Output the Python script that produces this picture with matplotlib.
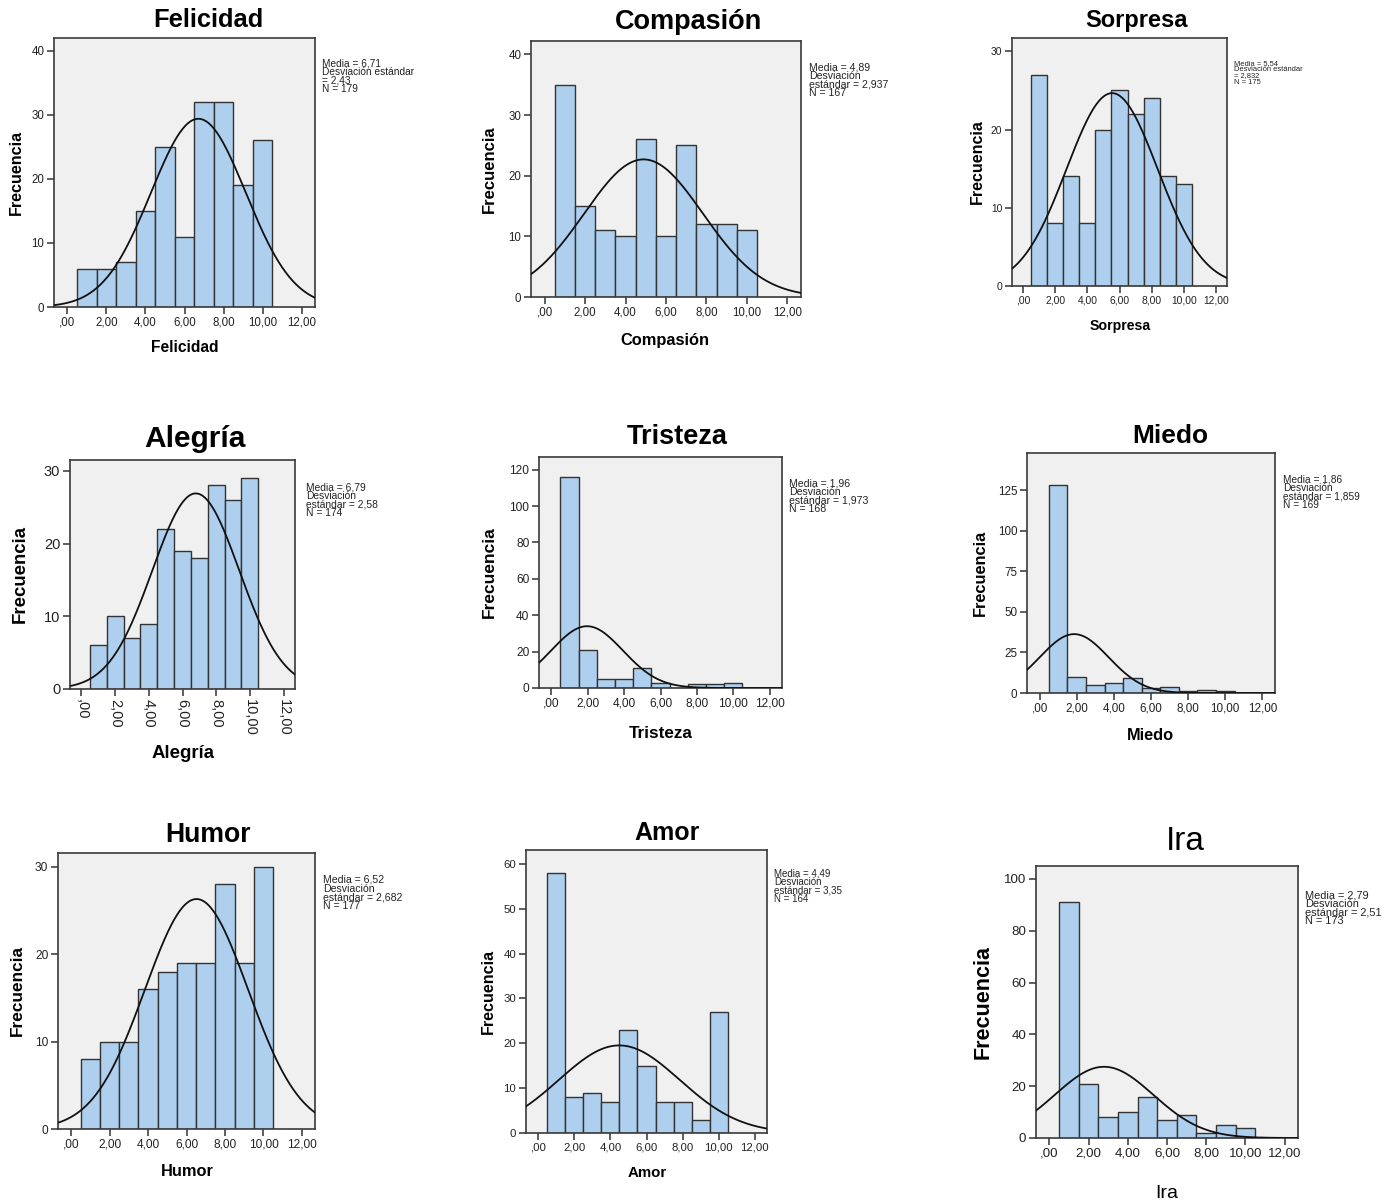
import numpy as np
import matplotlib
matplotlib.use("Agg")
import matplotlib.pyplot as plt
from matplotlib.ticker import MultipleLocator, FuncFormatter

W, H = 1385, 1202

# ---- data ----
names = ["Felicidad", "Compasión", "Sorpresa",
         "Alegría", "Tristeza", "Miedo",
         "Humor", "Amor", "Ira"]
bin_centers = [1, 2, 3, 4, 5, 6, 7, 8, 9, 10]
felicidad = [6, 6, 7, 15, 25, 11, 32, 32, 19, 26]
compasion = [35, 15, 11, 10, 26, 10, 25, 12, 12, 11]
sorpresa = [27, 8, 14, 8, 20, 25, 22, 24, 14, 13]
alegria = [6, 10, 7, 9, 22, 19, 18, 28, 26, 29]
tristeza = [116, 21, 5, 5, 11, 3, 0, 2, 2, 3]
miedo = [128, 10, 5, 6, 9, 3, 4, 1, 2, 1]
humor = [8, 10, 10, 16, 18, 19, 19, 28, 19, 30]
amor = [58, 8, 9, 7, 23, 15, 7, 7, 3, 27]
ira = [91, 21, 8, 10, 16, 7, 9, 2, 5, 4]
counts = [felicidad, compasion, sorpresa, alegria, tristeza, miedo, humor, amor, ira]

means = [6.71, 4.89, 5.54, 6.79, 1.96, 1.86, 6.52, 4.49, 2.79]
sds = [2.43, 2.937, 2.832, 2.58, 1.973, 1.859, 2.682, 3.35, 2.51]
ns = [179, 167, 175, 174, 168, 169, 177, 164, 173]
stats_text = [
    "Media = 6,71\nDesviación estándar\n= 2,43\nN = 179",
    "Media = 4,89\nDesviación\nestándar = 2,937\nN = 167",
    "Media = 5,54\nDesviación estándar\n= 2,832\nN = 175",
    "Media = 6,79\nDesviación\nestándar = 2,58\nN = 174",
    "Media = 1,96\nDesviación\nestándar = 1,973\nN = 168",
    "Media = 1,86\nDesviación\nestándar = 1,859\nN = 169",
    "Media = 6,52\nDesviación\nestándar = 2,682\nN = 177",
    "Media = 4,49\nDesviación\nestándar = 3,35\nN = 164",
    "Media = 2,79\nDesviación\nestándar = 2,51\nN = 173",
]

# ---- layout (pixels): box x0,y0,x1,y1 ; title ; ylabel ; xlabel ; stats ----
layout = [
    dict(box=(54, 38, 315, 307), ytop=42, ystep=10, title=(208, 20, 18.4), ylab=(16, 172, 11.6),
         xlab=(185, 347, 11.2), stats=(322, 58, 7.3), tick=8.3),
    dict(box=(531, 41, 801, 297), ytop=42.2, ystep=10, title=(688, 22, 19.5), ylab=(489, 169, 12),
         xlab=(665, 340, 11.8), stats=(809, 62, 7.6), tick=8.3),
    dict(box=(1012, 38, 1227, 286), ytop=31.7, ystep=10, title=(1137, 20, 17), ylab=(977, 162, 11.5),
         xlab=(1120, 326, 10.2), stats=(1234, 60, 5.4), tick=7.4),
    dict(box=(70, 460, 295, 689), ytop=31.5, ystep=10, title=(195, 439, 21.5), ylab=(20, 574, 13.4),
         xlab=(183, 753, 13.4), stats=(306, 482, 7.4), tick=10.5, rot=True),
    dict(box=(539, 457, 782, 688), ytop=127, ystep=20, title=(677, 437, 19.5), ylab=(489, 572, 12.5),
         xlab=(661, 733, 12.3), stats=(789, 478, 7.6), tick=8.6),
    dict(box=(1027, 453, 1275, 693), ytop=147.8, ystep=25, title=(1170, 436, 19), ylab=(980, 573, 11.8),
         xlab=(1150, 735, 11.8), stats=(1283, 474, 7.3), tick=8.4),
    dict(box=(58, 853, 315, 1129), ytop=31.6, ystep=10, title=(208, 835, 19.2), ylab=(17, 991, 12.4),
         xlab=(187, 1172, 11.8), stats=(323, 875, 7.6), tick=8.6),
    dict(box=(526, 850, 767, 1133), ytop=63.1, ystep=10, title=(667, 833, 18), ylab=(488, 991, 11.6),
         xlab=(647, 1173, 10.8), stats=(774, 868, 7.0), tick=8.2),
    dict(box=(1036, 866, 1298, 1138), ytop=105, ystep=20, title=(1185, 842, 24), ylab=(983, 1002, 15.5),
         xlab=(1167, 1193, 14), stats=(1305, 890, 7.9), tick=9.6, narrow=True),
]

BAR = "#AECFEE"
EDGE = "#333333"
BG = "#F0F0F0"

plt.rcParams["font.family"] = ["Liberation Sans", "DejaVu Sans"]

fig = plt.figure(figsize=(W / 100, H / 100), dpi=100)
fig.patch.set_facecolor("white")


def fx(px):
    return px / W


def fy(py):
    return 1 - py / H


def xfmt(v, pos):
    s = f"{v:.2f}".replace(".", ",")
    return s[1:] if s.startswith("0") else s


for i, name in enumerate(names):
    L = layout[i]
    x0, y0, x1, y1 = L["box"]
    ax = fig.add_axes([fx(x0), fy(y1), (x1 - x0) / W, (y1 - y0) / H])
    ax.set_facecolor(BG)
    ax.bar(bin_centers, counts[i], width=1.0, color=BAR, edgecolor=EDGE, linewidth=1.0, zorder=2)

    # normal curve scaled to the counts (bin width 1)
    xs = np.linspace(-0.7, 12.7, 300)
    curve = ns[i] * np.exp(-0.5 * ((xs - means[i]) / sds[i]) ** 2) / (sds[i] * np.sqrt(2 * np.pi))
    ax.plot(xs, curve, color="#111111", lw=1.3, zorder=3)

    ax.set_xlim(-0.68, 12.68)
    ax.set_ylim(0, L["ytop"])
    ax.xaxis.set_major_locator(MultipleLocator(2))
    ax.yaxis.set_major_locator(MultipleLocator(L["ystep"]))
    ax.xaxis.set_major_formatter(FuncFormatter(xfmt))
    ax.tick_params(direction="out", length=5, width=1.1, colors="#333333",
                   labelsize=L["tick"], labelcolor="#222222", pad=2)
    ax.tick_params(top=False, right=False)
    if L.get("rot"):
        for lab in ax.get_xticklabels():
            lab.set_rotation(-90)
    for sp in ax.spines.values():
        sp.set_color("#3a3a3a")
        sp.set_linewidth(1.2)

    tx, ty, ts = L["title"]
    lx, ly, ls = L["ylab"]
    bx, by, bs = L["xlab"]
    sx, sy, ss = L["stats"]
    if L.get("narrow"):
        fig.text(fx(tx), fy(ty), name, ha="center", va="center", fontsize=ts)
        fig.text(fx(bx), fy(by), name, ha="center", va="center", fontsize=bs)
    else:
        fig.text(fx(tx), fy(ty), name, ha="center", va="center", fontsize=ts, fontweight="bold")
        fig.text(fx(bx), fy(by), name, ha="center", va="center", fontsize=bs, fontweight="bold")
    fig.text(fx(lx), fy(ly), "Frecuencia", ha="center", va="center", rotation=90,
             fontsize=ls, fontweight="bold")
    fig.text(fx(sx), fy(sy), stats_text[i], ha="left", va="top", fontsize=ss,
             linespacing=0.85, color="#222222")

fig.savefig("out.png", dpi=100, facecolor="white")
